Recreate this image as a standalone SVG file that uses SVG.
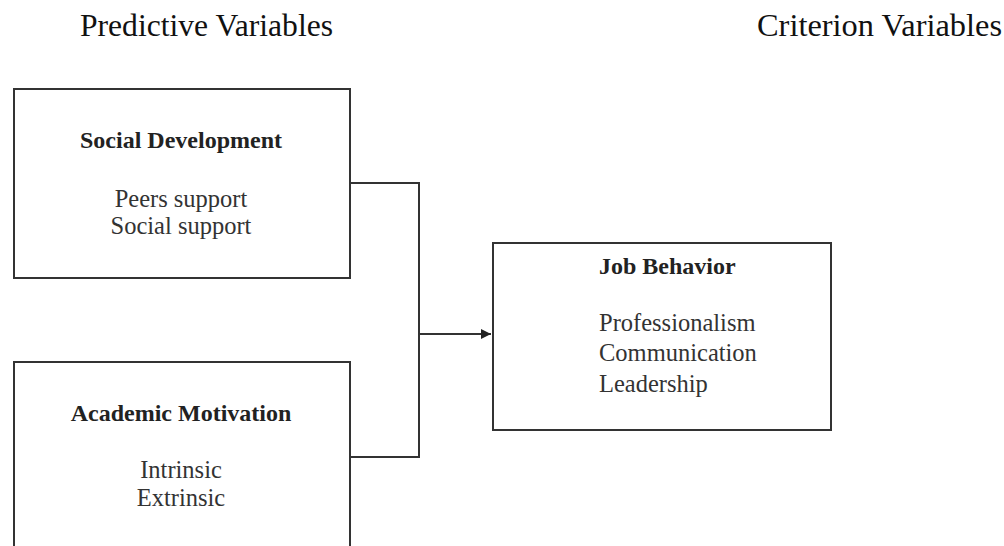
<svg xmlns="http://www.w3.org/2000/svg" width="1004" height="546" viewBox="0 0 1004 546">
  <style>
    .box { fill: #ffffff; stroke: #333333; stroke-width: 2; }
    .wire { fill: none; stroke: #333333; stroke-width: 2; }
    .head { font-family: "Liberation Serif", "Times New Roman", serif; font-size: 31px; fill: #111111; }
    .title { font-family: "Liberation Serif", "Times New Roman", serif; font-size: 24px; font-weight: bold; fill: #222222; }
    .item { font-family: "Liberation Serif", "Times New Roman", serif; font-size: 24.5px; fill: #333333; }
  </style>
  <defs>
    <marker id="arrow" viewBox="0 0 10 10" refX="10" refY="5" markerWidth="6" markerHeight="5" markerUnits="strokeWidth" orient="auto">
      <path d="M0,0 L10,5 L0,10 Z" fill="#222222"/>
    </marker>
  </defs>
  <rect width="1004" height="546" fill="#ffffff"/>

  <text class="head" x="80" y="36" textLength="253" lengthAdjust="spacingAndGlyphs">Predictive Variables</text>
  <text class="head" x="757" y="36" textLength="245" lengthAdjust="spacingAndGlyphs">Criterion Variables</text>

  <g id="connectors">
    <polyline class="wire" points="350,183 419,183 419,457 350,457"/>
    <line class="wire" x1="419" y1="334" x2="491" y2="334" marker-end="url(#arrow)"/>
  </g>

  <g id="social-development">
    <rect class="box" x="14" y="89" width="336" height="189"/>
    <text class="title" x="181" y="148" text-anchor="middle">Social Development</text>
    <text class="item" x="181" y="207" text-anchor="middle">Peers support</text>
    <text class="item" x="181" y="234" text-anchor="middle">Social support</text>
  </g>

  <g id="academic-motivation">
    <rect class="box" x="14" y="362" width="336" height="200"/>
    <text class="title" x="181" y="421" text-anchor="middle">Academic Motivation</text>
    <text class="item" x="181" y="478" text-anchor="middle">Intrinsic</text>
    <text class="item" x="181" y="506" text-anchor="middle">Extrinsic</text>
  </g>

  <g id="job-behavior">
    <rect class="box" x="493" y="243" width="338" height="187"/>
    <text class="title" x="599" y="274">Job Behavior</text>
    <text class="item" x="599" y="331">Professionalism</text>
    <text class="item" x="599" y="361">Communication</text>
    <text class="item" x="599" y="392">Leadership</text>
  </g>
</svg>
